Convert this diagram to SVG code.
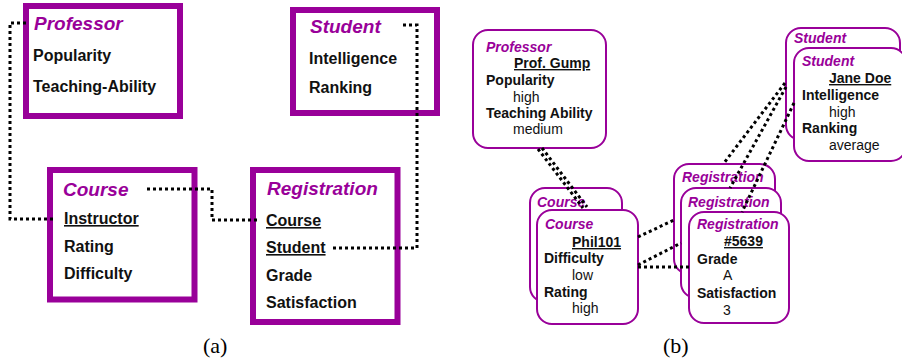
<svg xmlns="http://www.w3.org/2000/svg" width="902" height="360" viewBox="0 0 902 360">
<style>
  .box { fill: #fff; stroke: #990099; stroke-width: 6; }
  .card { fill: #fff; stroke: #990099; stroke-width: 2; }
  .t1 { font-family: "Liberation Sans", Arial, sans-serif; font-weight: bold; font-style: italic; font-size: 19px; fill: #990099; }
  .a1 { font-family: "Liberation Sans", Arial, sans-serif; font-weight: bold; font-size: 16px; fill: #111; }
  .t2 { font-family: "Liberation Sans", Arial, sans-serif; font-weight: bold; font-style: italic; font-size: 14px; fill: #990099; }
  .a2 { font-family: "Liberation Sans", Arial, sans-serif; font-weight: bold; font-size: 14px; fill: #111; }
  .v2 { font-family: "Liberation Sans", Arial, sans-serif; font-size: 14px; fill: #111; }
  .u { text-decoration: underline; }
  .dot { fill: none; stroke: #000; stroke-width: 3; stroke-dasharray: 3 3; }
  .cap { font-family: "Liberation Serif", "Times New Roman", serif; font-size: 22px; fill: #000; }
</style>

<!-- (a) -->
<g id="a-professor">
  <rect class="box" x="26" y="6" width="154" height="110"/>
  <text class="t1" x="34" y="30">Professor</text>
  <text class="a1" x="33" y="61">Popularity</text>
  <text class="a1" x="33" y="92">Teaching-Ability</text>
</g>
<g id="a-student">
  <rect class="box" x="293" y="10" width="144" height="103"/>
  <text class="t1" x="310" y="33">Student</text>
  <text class="a1" x="309" y="64">Intelligence</text>
  <text class="a1" x="309" y="93">Ranking</text>
</g>
<g id="a-course">
  <rect class="box" x="50" y="170" width="144.5" height="129.5"/>
  <text class="t1" x="63" y="196">Course</text>
  <text class="a1 u" x="64" y="224">Instructor</text>
  <text class="a1" x="64" y="252">Rating</text>
  <text class="a1" x="64" y="279">Difficulty</text>
</g>
<g id="a-registration">
  <rect class="box" x="253" y="170" width="144.5" height="152"/>
  <text class="t1" x="267" y="195">Registration</text>
  <text class="a1 u" x="266" y="226">Course</text>
  <text class="a1 u" x="266" y="253">Student</text>
  <text class="a1" x="266" y="281">Grade</text>
  <text class="a1" x="266" y="308">Satisfaction</text>
</g>

<!-- (b) -->
<g id="b-professor">
  <rect class="card" x="473" y="30" width="133" height="118" rx="15"/>
  <text class="t2" x="486" y="52">Professor</text>
  <text class="a2 u" x="514" y="68">Prof. Gump</text>
  <text class="a2" x="486" y="85">Popularity</text>
  <text class="v2" x="513" y="102">high</text>
  <text class="a2" x="486" y="118">Teaching Ability</text>
  <text class="v2" x="513" y="134">medium</text>
</g>
<g id="b-student-back">
  <rect class="card" x="786" y="28" width="114" height="112" rx="15"/>
  <text class="t2" x="794" y="43">Student</text>
</g>
<g id="b-student">
  <rect class="card" x="794" y="48" width="112" height="113" rx="15"/>
  <text class="t2" x="802" y="66">Student</text>
  <text class="a2 u" x="829" y="83">Jane Doe</text>
  <text class="a2" x="802" y="100">Intelligence</text>
  <text class="v2" x="829" y="117">high</text>
  <text class="a2" x="802" y="133">Ranking</text>
  <text class="v2" x="829" y="150">average</text>
</g>
<g id="b-course-back">
  <rect class="card" x="530" y="188" width="92" height="114" rx="15"/>
  <text class="t2" x="537" y="207">Course</text>
</g>
<g id="b-course">
  <rect class="card" x="537" y="210" width="101" height="114" rx="15"/>
  <text class="t2" x="545" y="229">Course</text>
  <text class="a2 u" x="572" y="247">Phil101</text>
  <text class="a2" x="544" y="263">Difficulty</text>
  <text class="v2" x="572" y="280">low</text>
  <text class="a2" x="544" y="297">Rating</text>
  <text class="v2" x="572" y="313">high</text>
</g>
<g id="b-registration-1">
  <rect class="card" x="674" y="164" width="101" height="110" rx="15"/>
  <text class="t2" x="682" y="182">Registration</text>
</g>
<g id="b-registration-2">
  <rect class="card" x="681" y="188" width="100" height="110" rx="15"/>
  <text class="t2" x="688" y="207">Registration</text>
</g>
<g id="b-registration">
  <rect class="card" x="689" y="212" width="100" height="111" rx="15"/>
  <text class="t2" x="697" y="229">Registration</text>
  <text class="a2 u" x="724" y="246">#5639</text>
  <text class="a2" x="697" y="264">Grade</text>
  <text class="v2" x="723" y="280">A</text>
  <text class="a2" x="697" y="298">Satisfaction</text>
  <text class="v2" x="723" y="315">3</text>
</g>

<g id="connectors">
  <polyline class="dot" points="26,23 10,23 10,219 55,219"/>
  <polyline class="dot" points="147,189 212,189 212,220 258,220"/>
  <polyline class="dot" points="333,248 417,248 417,25 403,25"/>

  <line class="dot" x1="538" y1="149" x2="583" y2="208"/>
  <line class="dot" x1="542" y1="148" x2="587" y2="207"/>
  <line class="dot" x1="638" y1="237" x2="674" y2="220"/>
  <line class="dot" x1="638" y1="265" x2="681" y2="243"/>
  <line class="dot" x1="638" y1="267" x2="689" y2="267"/>
  <line class="dot" x1="785" y1="83" x2="724" y2="163"/>
  <line class="dot" x1="786" y1="87" x2="730" y2="188"/>
  <line class="dot" x1="794" y1="103" x2="742" y2="212"/>
</g>

<text class="cap" x="203" y="353">(a)</text>
<text class="cap" x="663" y="353">(b)</text>
</svg>
